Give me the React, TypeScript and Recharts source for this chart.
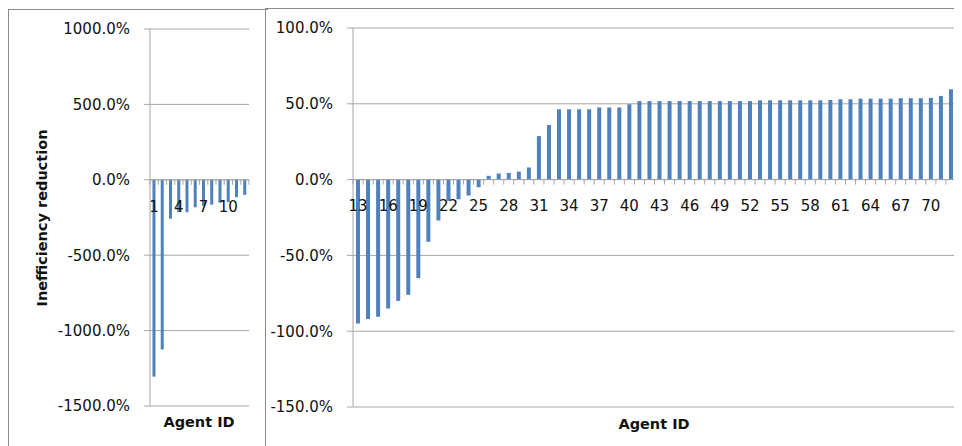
import { BarChart, Bar, XAxis, YAxis, CartesianGrid, ReferenceLine } from 'recharts'

// agent ids and inefficiency reduction (%)
const leftAgents = ['1', '2', '3', '4', '5', '6', '7', '8', '9', '10', '11', '12']
const leftValues = [-1305, -1125, -258, -215, -215, -182, -172, -165, -152, -148, -115, -100]
const leftTicks = [-1500, -1000, -500, 0, 500, 1000]

const rightAgents = [
  '13', '14', '15', '16', '17', '18', '19', '20', '21', '22', '23', '24', '25', '26', '27',
  '28', '29', '30', '31', '32', '33', '34', '35', '36', '37', '38', '39', '40', '41', '42',
  '43', '44', '45', '46', '47', '48', '49', '50', '51', '52', '53', '54', '55', '56', '57',
  '58', '59', '60', '61', '62', '63', '64', '65', '66', '67', '68', '69', '70', '71', '72',
]
const rightValues = [
  -95, -92, -90.5, -85, -80, -76, -65, -41, -27, -14, -13, -10.5, -5, 2.5, 4,
  4.4, 5.3, 8, 28.7, 36, 46.4, 46.4, 46.4, 46.4, 47.6, 47.6, 47.6, 49.7, 51.8, 51.8,
  51.8, 51.8, 51.8, 51.8, 51.8, 51.8, 51.8, 51.8, 51.8, 51.8, 52.3, 52.3, 52.3, 52.3, 52.3,
  52.3, 52.3, 52.5, 53, 53, 53.4, 53.4, 53.4, 53.4, 53.7, 53.7, 53.7, 53.9, 55.2, 59.6,
]
const rightTicks = [-150, -100, -50, 0, 50, 100]

const BLUE = '#4f81bd'
const GRID = '#a6a6a6'
const FONT = '"DejaVu Sans", sans-serif'
const H = 438

const pct = (v: number) => `${v.toFixed(1)}%`

// x labels sit under the zero line, with small tick marks between categories
function zeroTick(n: number, plotW: number, plotH: number, min: number, max: number) {
  const band = plotW / n
  return (props: any) => {
    const { x, y, payload } = props
    const index = props.index ?? payload.index
    const zeroY = y - (plotH * (0 - min)) / (max - min)
    return (
      <g>
        <line x1={x - band / 2} x2={x - band / 2} y1={zeroY} y2={zeroY + 5} stroke={GRID} />
        {index === n - 1 && (
          <line x1={x + band / 2} x2={x + band / 2} y1={zeroY} y2={zeroY + 5} stroke={GRID} />
        )}
        {index % 3 === 0 && (
          <text x={x} y={zeroY + 26.5} dy="0.35em" textAnchor="middle" fontSize={15} fontFamily={FONT} fill="#111">
            {payload.value}
          </text>
        )}
      </g>
    )
  }
}

interface PanelProps {
  agents: string[]
  values: number[]
  ticks: number[]
  width: number
  yWidth: number
  margin: { top: number; right: number; bottom: number; left: number }
}

function Panel({ agents, values, ticks, width, yWidth, margin }: PanelProps) {
  const data = agents.map((a, i) => ({ agent: a, value: values[i] }))
  const min = ticks[0]
  const max = ticks[ticks.length - 1]
  const xHeight = 1
  const plotW = width - margin.left - margin.right - yWidth
  const plotH = H - margin.top - margin.bottom - xHeight
  return (
    <BarChart width={width} height={H} data={data} margin={margin} barCategoryGap="30%">
      <CartesianGrid stroke={GRID} vertical={false} />
      <XAxis
        dataKey="agent"
        height={xHeight}
        interval={0}
        axisLine={false}
        tickLine={false}
        tickSize={0}
        tickMargin={0}
        tick={zeroTick(agents.length, plotW, plotH, min, max)}
      />
      <YAxis
        width={yWidth}
        domain={[min, max]}
        ticks={ticks}
        interval={0}
        tickFormatter={pct}
        stroke={GRID}
        tickSize={6}
        tickMargin={14}
        tick={{ fontSize: 15, fontFamily: FONT, fill: '#111' }}
      />
      <ReferenceLine y={0} stroke={GRID} />
      <Bar dataKey="value" fill={BLUE} isAnimationActive={false} />
    </BarChart>
  )
}

const titleStyle = {
  position: 'absolute' as const,
  fontFamily: FONT,
  fontWeight: 700,
  fontSize: 14.5,
  color: '#111',
  whiteSpace: 'nowrap' as const,
}

export default function App() {
  return (
    <div style={{ position: 'relative', width: 954, height: H, overflow: 'hidden', background: '#fff' }}>
      <div style={{ position: 'absolute', left: 0, top: 1, width: 260, height: 500, borderLeft: '1px solid #8c8c8c', borderTop: '1px solid #8c8c8c', boxSizing: 'border-box' }} />
      <div style={{ position: 'absolute', left: 257, top: 0, width: 720, height: 500, borderLeft: '1px solid #8c8c8c', borderTop: '1px solid #8c8c8c', boxSizing: 'border-box' }} />

      <div style={{ position: 'absolute', left: 0, top: 0 }}>
        <Panel
          agents={leftAgents}
          values={leftValues}
          ticks={leftTicks}
          width={257}
          yWidth={142}
          margin={{ top: 21, right: 16, bottom: 39, left: 0 }}
        />
      </div>
      <div style={{ position: 'absolute', left: 258, top: 0 }}>
        <Panel
          agents={rightAgents}
          values={rightValues}
          ticks={rightTicks}
          width={696}
          yWidth={87}
          margin={{ top: 20, right: 6, bottom: 38, left: 0 }}
        />
      </div>

      <div style={{ ...titleStyle, left: 34, top: 210, transform: 'translate(-50%, -50%) rotate(-90deg)' }}>
        Inefficiency reduction
      </div>
      <div style={{ ...titleStyle, left: 191, top: 414, transform: 'translate(-50%, -50%)' }}>Agent ID</div>
      <div style={{ ...titleStyle, left: 646, top: 416, transform: 'translate(-50%, -50%)' }}>Agent ID</div>
    </div>
  )
}
